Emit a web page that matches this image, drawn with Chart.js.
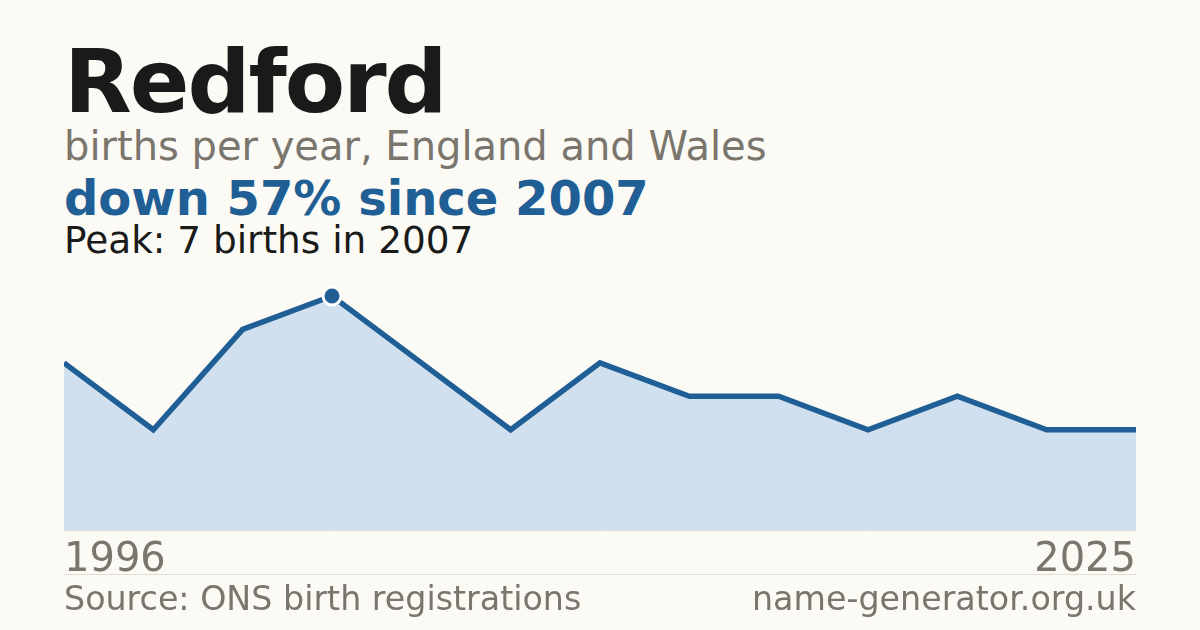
<!DOCTYPE html>
<html>
<head>
<meta charset="utf-8">
<script src="https://cdn.jsdelivr.net/npm/chart.js@4"></script>
<style>
  html, body { margin: 0; padding: 0; }
  body {
    width: 1200px; height: 630px; overflow: hidden; position: relative;
    background: #fbfaf5; font-family: "DejaVu Sans", sans-serif;
  }
  .t { position: absolute; left: 64px; white-space: nowrap; line-height: 1; }
  #title { top: 38px; font-size: 88px; font-weight: bold; color: #1a1a1a; letter-spacing: -2px; }
  #sub { top: 126px; font-size: 40px; color: #7a756d; }
  #headline { top: 174px; font-size: 48px; font-weight: bold; color: #1f5f96; }
  #peak { top: 222px; font-size: 37.4px; color: #1a1a1a; }
  #rule { position: absolute; left: 64px; width: 1072px; top: 574px; height: 1px; background: #e0ddd5; }
  #src { top: 582px; font-size: 33.3px; color: #7a756d; }
  #site { top: 582px; left: auto; right: 64px; font-size: 33.3px; color: #7a756d; }
  #wrap { position: absolute; left: 64px; top: 280px; width: 1072px; height: 300px; }
</style>
</head>
<body>
<div class="t" id="title">Redford</div>
<div class="t" id="sub">births per year, England and Wales</div>
<div class="t" id="headline">down 57% since 2007</div>
<div class="t" id="peak">Peak: 7 births in 2007</div>
<div id="wrap"><canvas id="c"></canvas></div>
<div id="rule"></div>
<div class="t" id="src">Source: ONS birth registrations</div>
<div class="t" id="site">name-generator.org.uk</div>
<script>
// years with registrations, births in each
var years = ["1996", "1998", "2003", "2007", "2009", "2011", "2013", "2015", "2017", "2019", "2021", "2023", "2025"];
var births = [5, 3, 6, 7, 5, 3, 5, 4, 4, 3, 4, 3, 3];
var peakIndex = 3;

var blue = "#1f5f96";

new Chart(document.getElementById("c"), {
  type: "line",
  data: {
    labels: years,
    datasets: [{
      data: births,
      borderColor: blue,
      borderWidth: 5.5,
      backgroundColor: "#d0e0ef",
      fill: "origin",
      tension: 0,
      pointRadius: function (ctx) { return ctx.dataIndex === peakIndex ? 9 : 0; },
      pointBackgroundColor: blue,
      pointBorderColor: "#ffffff",
      pointBorderWidth: 3,
      clip: false
    }]
  },
  options: {
    responsive: true,
    maintainAspectRatio: false,
    animation: false,
    events: [],
    layout: { padding: { top: 16, left: 0, right: 0, bottom: 0 } },
    plugins: { legend: { display: false }, tooltip: { enabled: false } },
    scales: {
      x: {
        grid: { display: false },
        border: { display: true, color: "#e0ddd5", width: 1 },
        afterFit: function (scale) { scale.height = 50; },
        ticks: {
          autoSkip: false,
          maxRotation: 0,
          align: "inner",
          padding: -1,
          color: "#7a756d",
          font: { family: "DejaVu Sans", size: 40 },
          callback: function (v, i) {
            return (i === 0 || i === years.length - 1) ? years[i] : "";
          }
        }
      },
      y: {
        display: false,
        min: 0,
        max: 7
      }
    }
  }
});
</script>
</body>
</html>
